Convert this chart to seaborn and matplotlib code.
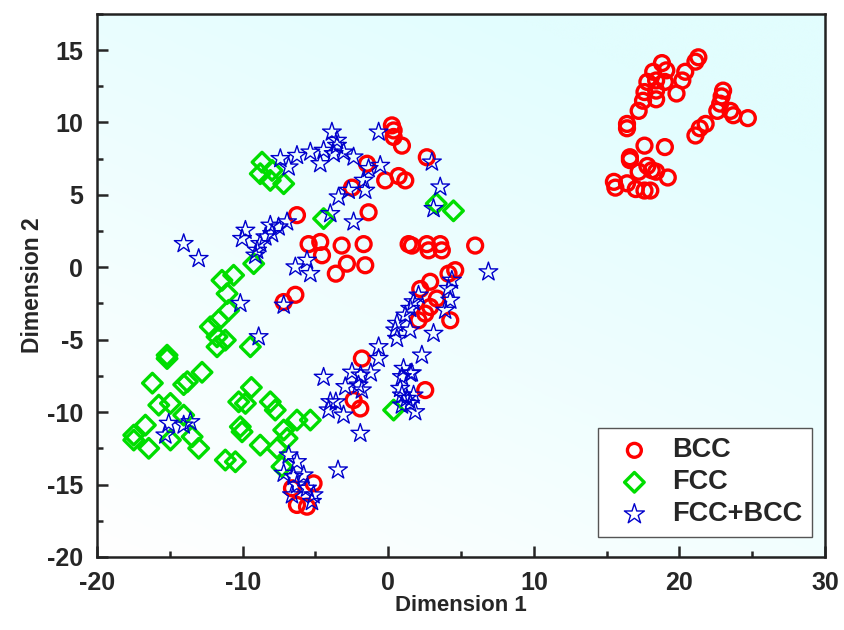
import numpy as np
import matplotlib
matplotlib.use("Agg")
import matplotlib.pyplot as plt
import seaborn as sns
from matplotlib.colors import LinearSegmentedColormap
from matplotlib.ticker import MultipleLocator

# values
bcc_x = [21.3, 21.1, 18.8, 18.2, 19.1, 20.4, 17.8, 18.4, 19.0, 20.2, 17.6, 18.4, 19.8, 18.4, 17.5, 17.2, 16.4, 16.4,
         23.0, 22.9, 22.8, 22.6, 23.5, 23.7, 24.7, 21.8, 21.4, 21.1,
         17.6, 19.0, 16.6, 16.6, 17.8, 17.2, 18.1, 18.4, 19.2, 15.5, 15.6, 16.4, 17.0, 17.6, 18.0,
         0.25, 0.37, 0.37, 0.94, 2.65, -1.46, -0.21, 0.71, 1.17, -2.49, -1.35,
         -6.27, -5.47, -4.67, -4.55, -3.2, -3.6, -7.18, -6.38,
         -1.69, -2.84, -1.58, 1.62, 1.4, 2.65, 3.57, 2.77, 3.68, 5.97, 4.6, 4.14, 2.88, 2.2,
         3.34, 2.88, 2.54, 2.08, 4.26, -1.81,
         -2.38, -1.92, 2.54,
         -6.61, -6.27, -5.58, -5.13]
bcc_y = [14.5, 14.2, 14.1, 13.5, 13.6, 13.5, 12.8, 12.9, 12.8, 12.9, 12.1, 12.2, 12.0, 11.6, 11.5, 10.8, 9.9, 9.6,
         12.2, 11.8, 11.3, 10.8, 10.8, 10.5, 10.3, 9.9, 9.6, 9.1,
         8.4, 8.3, 7.6, 7.4, 7.0, 6.6, 6.7, 6.6, 6.2, 5.9, 5.5, 5.8, 5.4, 5.3, 5.3,
         9.8, 9.45, 9.0, 8.4, 7.6, 7.15, 6.0, 6.3, 6.0, 5.5, 3.8,
         3.6, 1.6, 1.75, 0.83, 1.5, -0.44, -2.4, -1.9,
         1.6, 0.25, 0.14, 1.5, 1.6, 1.6, 1.6, 1.17, 1.17, 1.5, -0.2, -0.44, -1.0, -1.5,
         -2.16, -2.74, -3.2, -3.66, -3.66, -6.3,
         -9.17, -9.75, -8.48,
         -15.26, -16.41, -16.53, -14.92]

fcc_x = [-8.67, -8.79, -7.98, -8.10, -7.18, 3.3, 4.48,
         -4.44, -9.24, -11.42, -10.62, -11.07, -10.96, -11.65, -12.22, -11.76, -11.19, -11.76, -9.47,
         -15.19, -15.19, -16.2, -14.05, -13.8, -12.79, -9.4,
         -15.76, -14.96, -14.05, -16.68, -17.48, -17.48, -16.45, -14.96, -13.47, -13.02,
         -10.27, -9.81, -8.10, -7.76, -10.16, -10.04, -8.79, -7.64, -6.95, -6.27, -5.35, -7.18,
         -7.30, -11.19, -10.50, 0.37]
fcc_y = [7.26, 6.46, 6.69, 6.0, 5.77, 4.4, 3.9,
         3.36, 0.25, -0.9, -0.55, -1.82, -2.97, -3.66, -4.11, -4.8, -5.03, -5.49, -5.49,
         -6.07, -6.3, -8.0, -8.1, -7.9, -7.25, -8.3,
         -9.52, -9.4, -10.21, -10.9, -11.59, -11.93, -12.5, -11.93, -11.7, -12.5,
         -9.29, -9.4, -9.29, -9.86, -11.01, -11.36, -12.28, -12.5, -11.81, -10.55, -10.55, -11.24,
         -13.77, -13.31, -13.43, -9.86]

mix_x = [-3.87, -3.52, -3.52, -7.41, -6.84, -6.27, -5.35, -4.67, -4.44, -3.75, -3.41,
         -3.07, -2.38, -0.66, -1.35, -0.55, -1.69, -1.58, -2.72, 3.0, 3.57, 3.11,
         -3.98, -6.95, -7.53, -8.10, -7.98, -8.44, -8.79, -9.01, -9.13, -9.81, -10.04,
         -14.05, -13.02, -6.38, -5.58, -5.35, -10.16, -7.18, -8.90, -4.44,
         -2.38, 6.88, 4.37, 4.14, 2.08, 1.74, 1.51, 4.26, 3.91, 1.17, 0.60, 0.48, 1.51, 0.60, 3.11,
         -0.66, -0.66, -2.49, -1.9, -1.2, 1.05, 1.62, 2.31, 1.51,
         -2.95, -2.04, -1.81, -3.6, -3.07, -1.92, -3.45, 0.94, 0.82, 0.94, 1.28, 1.74, 0.94, 1.85, 1.51,
         -15.08, -15.31, -14.05, -13.59, -3.98, -4.10,
         -6.84, -6.27, -7.18, -6.50, -5.81, -6.27, -6.61, -5.58, -5.13, -5.24]
mix_y = [9.33, 8.76, 8.41, 7.5, 6.92, 7.72, 7.95, 7.15, 8.07, 7.84, 4.85,
         7.95, 7.61, 9.33, 6.81, 7.03, 6.0, 5.31, 5.31, 7.26, 5.54, 4.05,
         3.7, 3.13, 2.78, 2.9, 2.32, 2.09, 1.63, 1.17, 0.83, 2.55, 1.98,
         1.63, 0.6, 0.02, 0.48, -0.44, -2.5, -2.62, -4.8, -7.6,
         3.13, -0.32, -0.9, -1.47, -1.93, -2.39, -2.85, -2.28, -2.97, -3.31, -3.88, -4.34, -4.34, -4.92, -4.57,
         -5.49, -6.3, -7.25, -7.45, -7.3, -6.99, -7.3, -6.07, -7.33,
         -8.25, -8.14, -8.48, -9.3, -10.21, -11.47, -14.0, -7.56, -8.37, -8.83, -9.06, -8.83, -9.52, -9.98, -9.4,
         -10.78, -11.59, -10.9, -10.67, -9.29, -9.86,
         -12.97, -13.43, -14.23, -14.46, -14.35, -15.03, -15.72, -15.26, -15.72, -16.18]

labels = ["BCC", "FCC", "FCC+BCC"]
colors = ["#ff0000", "#00dd00", "#0000cc"]

sns.set_style("ticks")
plt.rcParams["font.family"] = ["Liberation Sans", "DejaVu Sans"]
plt.rcParams["font.weight"] = "bold"
plt.rcParams["axes.unicode_minus"] = False

fig = plt.figure(figsize=(8.44, 6.3), dpi=100)
ax = fig.add_axes([0.115, 0.116, 0.8625, 0.862])

# soft white -> light cyan background
xmin, xmax, ymin, ymax = -20, 30, -20, 17.5
u, v = np.meshgrid(np.linspace(0, 1, 200), np.linspace(0, 1, 200))
t = np.clip(0.45 * u + 0.75 * v, 0, 1)
cmap = LinearSegmentedColormap.from_list("bg", ["#ffffff", "#e2fdfe"])
ax.imshow(t, cmap=cmap, origin="lower", extent=[xmin, xmax, ymin, ymax],
          aspect="auto", interpolation="bicubic", zorder=0)

sns.scatterplot(x=bcc_x, y=bcc_y, ax=ax, marker="o", s=115, facecolors="none",
                edgecolor=colors[0], linewidth=2.4, label=labels[0], zorder=3)
sns.scatterplot(x=fcc_x, y=fcc_y, ax=ax, marker="D", s=100, facecolors="none",
                edgecolor=colors[1], linewidth=2.4, label=labels[1], zorder=3)
sns.scatterplot(x=mix_x, y=mix_y, ax=ax, marker="*", s=200, facecolors="none",
                edgecolor=colors[2], linewidth=1.0, label=labels[2], zorder=3)

ax.set_xlim(xmin, xmax)
ax.set_ylim(ymin, ymax)
ax.xaxis.set_major_locator(MultipleLocator(10))
ax.xaxis.set_minor_locator(MultipleLocator(5))
ax.yaxis.set_major_locator(MultipleLocator(5))
ax.yaxis.set_minor_locator(MultipleLocator(2.5))
ax.tick_params(which="both", direction="in", top=False, right=False, width=1.8, labelsize=18)
ax.tick_params(which="major", length=8, pad=10)
ax.tick_params(which="minor", length=4.5)
for side in ax.spines.values():
    side.set_linewidth(1.8)
    side.set_color("#222222")

ax.set_xlabel("Dimension 1", fontsize=16, fontweight="bold", labelpad=0)
ax.set_ylabel("Dimension 2", fontsize=16.5, fontweight="bold", labelpad=2)

leg = ax.legend(loc="lower right", bbox_to_anchor=(0.982, 0.037), borderaxespad=0,
                fancybox=False, framealpha=1, edgecolor="#555555",
                prop={"size": 19.5, "weight": "bold"}, labelspacing=0.22,
                handletextpad=0.4, borderpad=0.35, handlelength=2.0)
leg.get_frame().set_linewidth(1.0)
for h, sz in zip(leg.legend_handles, [100, 100, 230]):
    h.set_sizes([sz])

fig.savefig("out.png", dpi=100)
